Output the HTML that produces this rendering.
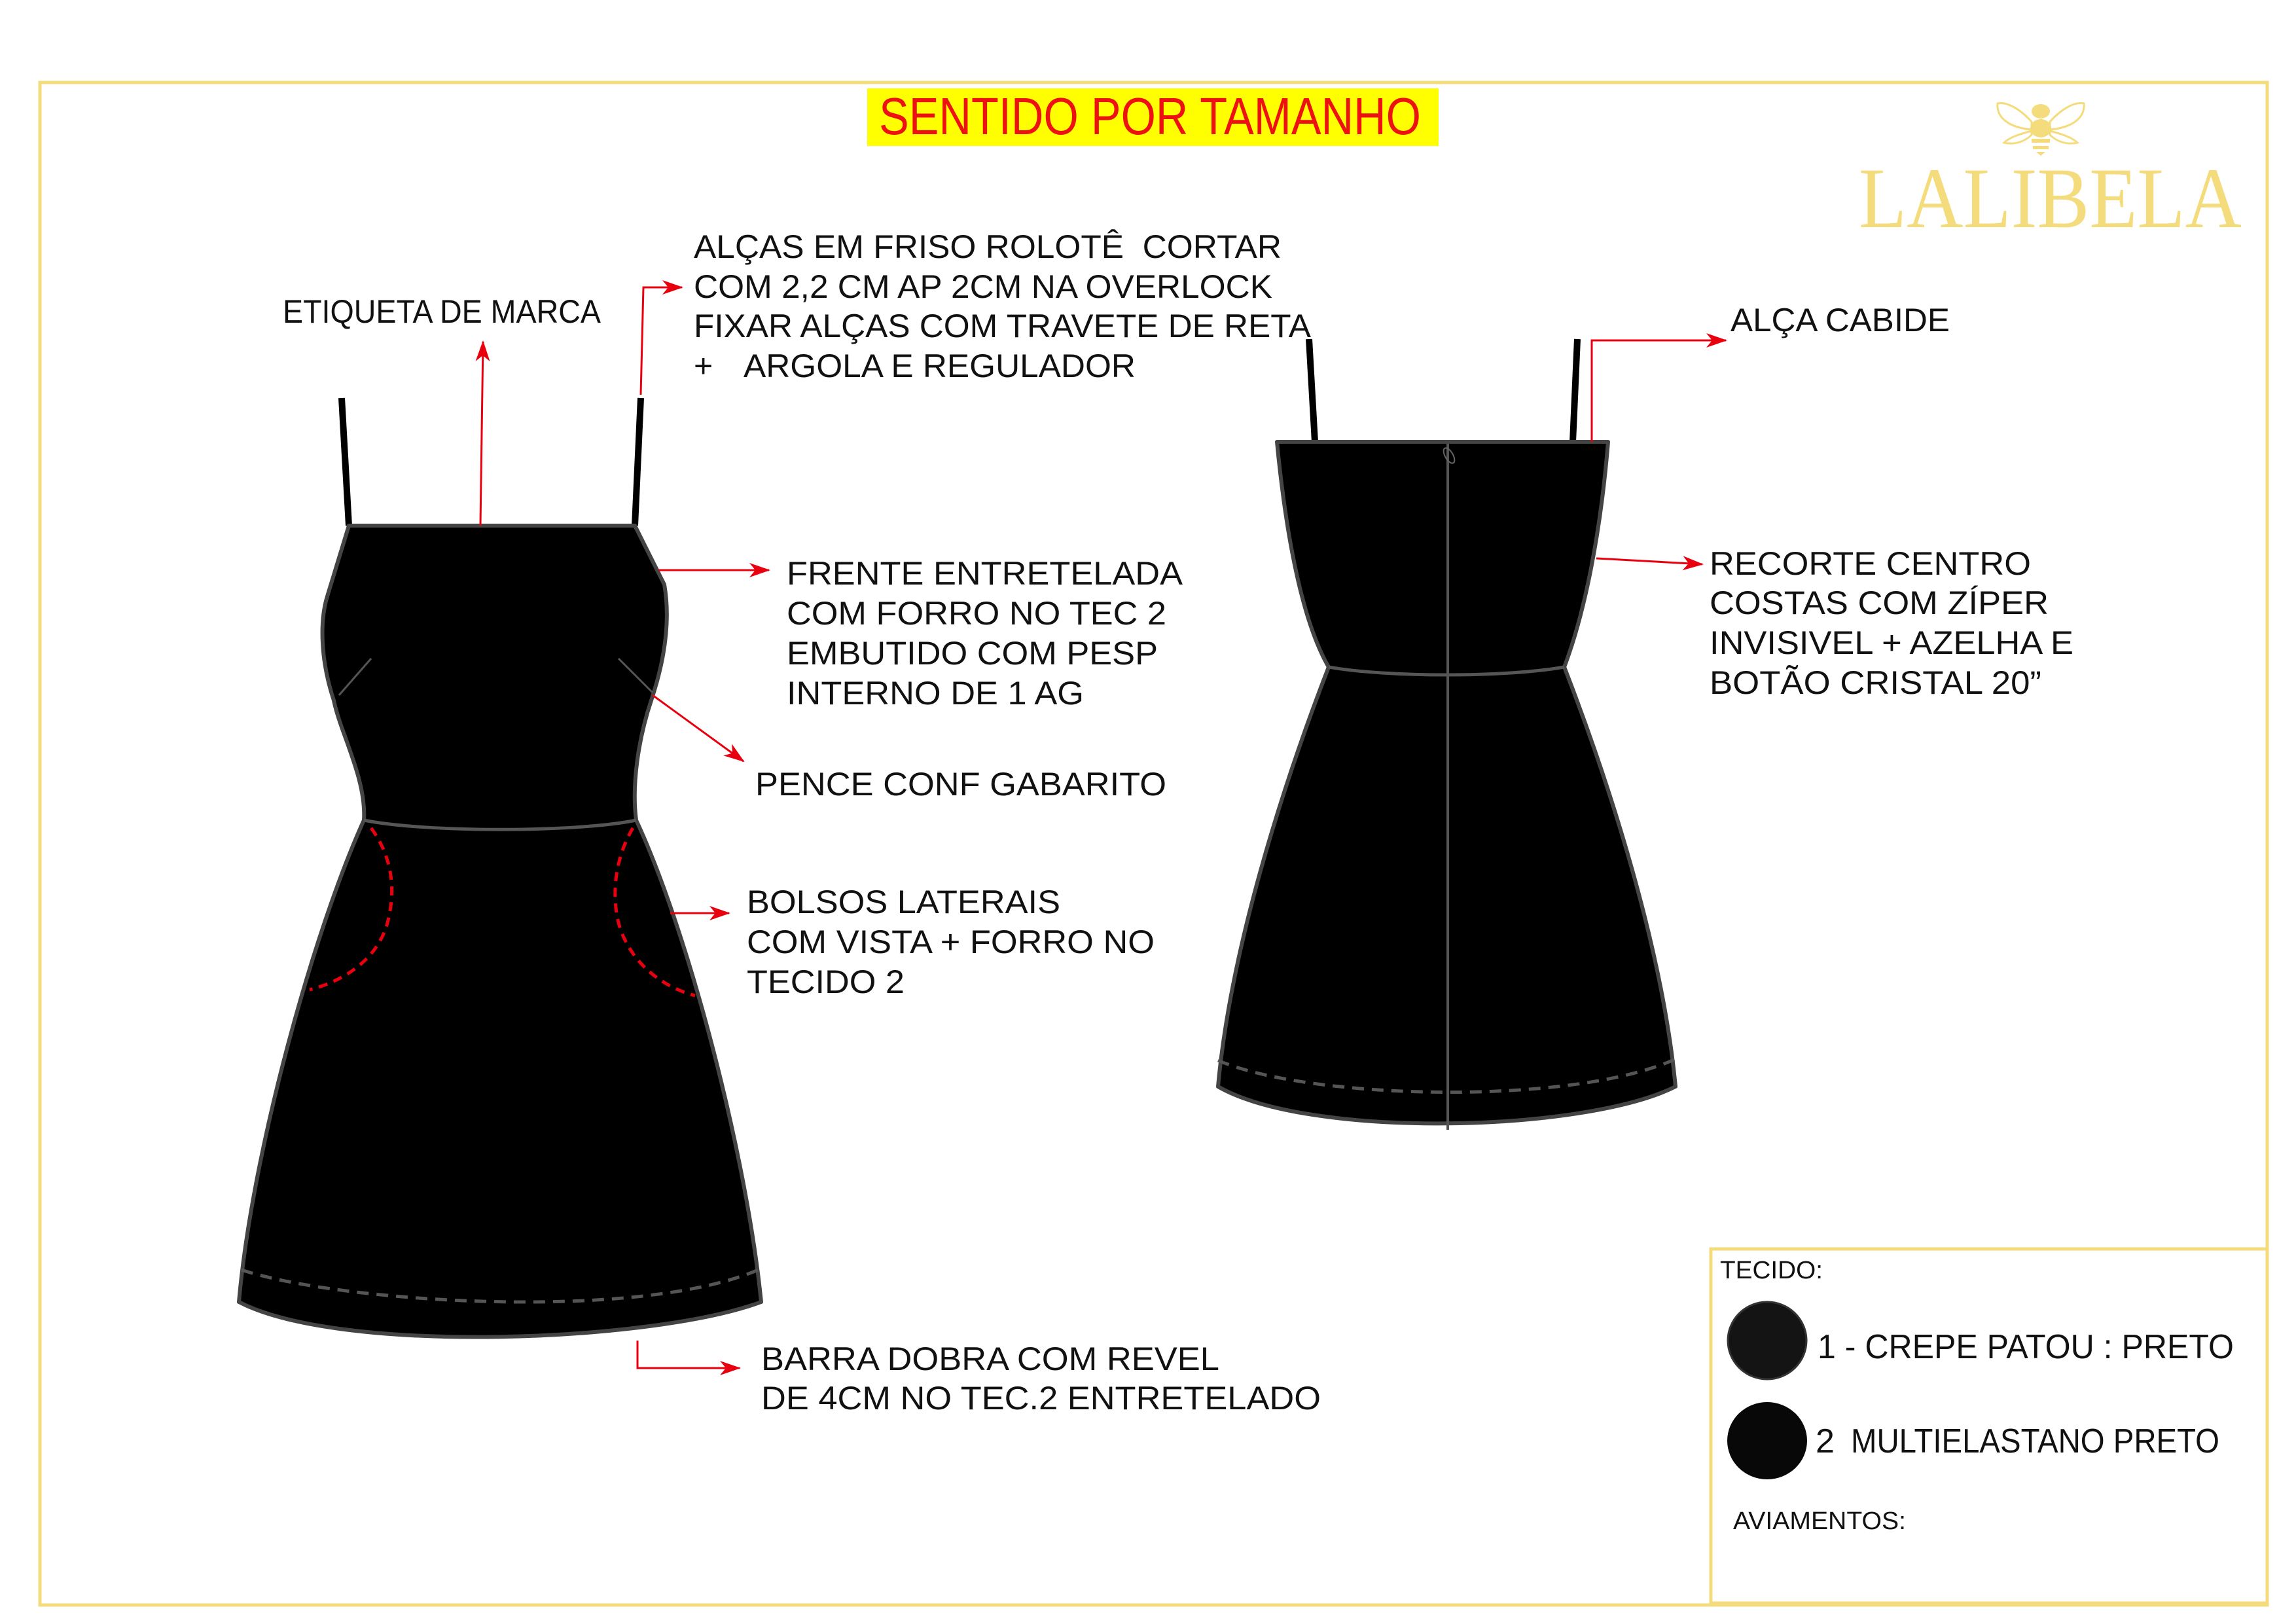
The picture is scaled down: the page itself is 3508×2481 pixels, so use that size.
<!DOCTYPE html>
<html><head><meta charset="utf-8"><style>
html,body{margin:0;padding:0;background:#fff;}
svg{display:block;}
text{font-family:"Liberation Sans",Arial,sans-serif;fill:#111;white-space:pre;}
</style></head><body>
<svg width="3508" height="2481" viewBox="0 0 3508 2481" xmlns="http://www.w3.org/2000/svg" xml:space="preserve">
<defs>
<marker id="ar" viewBox="0 0 32 22" refX="30" refY="11" markerWidth="32" markerHeight="22" markerUnits="userSpaceOnUse" orient="auto">
<path d="M0,0 L32,11 L0,22 L9,11 Z" fill="#e8000f"/>
</marker>
</defs>
<rect x="61" y="126" width="3403" height="2326" fill="none" stroke="#f4dc7c" stroke-width="5"/>
<rect x="2614" y="1908" width="850" height="541" fill="#fff" stroke="#f4dc7c" stroke-width="5"/>

<rect x="1325" y="135" width="873" height="88" fill="#ffff00"/>
<text x="1343" y="205" font-size="80" style="fill:#ee1111" textLength="828" lengthAdjust="spacingAndGlyphs">SENTIDO POR TAMANHO</text>

<!-- logo -->
<g fill="#f4dc7c" stroke="#f4dc7c">
<ellipse cx="3118" cy="170" rx="14" ry="11" stroke="none"/>
<ellipse cx="3118" cy="196" rx="16" ry="14" stroke="none"/>
<path d="M3104,212 h28 v6 h-28z M3106,223 h24 v5 h-24z M3111,232 h14 l-7,6z" stroke="none"/>
<path d="M3104,186 C3085,165 3065,155 3052,158 C3050,180 3070,195 3104,198 Z" fill="none" stroke-width="3"/>
<path d="M3132,186 C3151,165 3171,155 3184,158 C3186,180 3166,195 3132,198 Z" fill="none" stroke-width="3"/>
<path d="M3104,200 C3085,205 3070,210 3062,218 C3080,222 3095,215 3104,206 Z" fill="none" stroke-width="3"/>
<path d="M3132,200 C3151,205 3166,210 3174,218 C3156,222 3141,215 3132,206 Z" fill="none" stroke-width="3"/>
</g>
<text x="2840" y="347" font-size="132" style="fill:#f4dc7c;font-family:'Liberation Serif',serif" textLength="585" lengthAdjust="spacingAndGlyphs">LALIBELA</text>

<!-- FRONT DRESS -->
<g stroke="#000" stroke-width="10" stroke-linecap="butt">
<line x1="522" y1="608" x2="533" y2="803"/>
<line x1="979" y1="608" x2="970" y2="803"/>
</g>
<path d="M533,803 L970,803 L1015,893 C1025,950 1015,1010 995,1070 C975,1130 965,1200 972,1253
C1050,1420 1140,1760 1163,1989
C1000,2050 520,2070 365,1989 C385,1760 480,1420 556,1253
C560,1190 520,1120 510,1070 C490,1010 488,950 500,911 Z" fill="#000" stroke="#444" stroke-width="6" stroke-linejoin="round"/>
<path d="M556,1253 C650,1272 880,1272 972,1253" fill="none" stroke="#555" stroke-width="5"/>
<line x1="518" y1="1062" x2="567" y2="1006" stroke="#555" stroke-width="3"/>
<line x1="997" y1="1058" x2="945" y2="1006" stroke="#555" stroke-width="3"/>
<path d="M369,1940 C520,1990 980,2020 1163,1938" fill="none" stroke="#555" stroke-width="5" stroke-dasharray="18,12"/>
<path d="M567,1265 C600,1310 605,1360 592,1410 C575,1470 520,1500 473,1512" fill="none" stroke="#e8000f" stroke-width="5" stroke-dasharray="14,10"/>
<path d="M967,1265 C940,1310 932,1370 948,1420 C970,1480 1020,1510 1062,1521" fill="none" stroke="#e8000f" stroke-width="5" stroke-dasharray="14,10"/>

<!-- BACK DRESS -->
<g stroke="#000" stroke-width="10">
<line x1="2000" y1="518" x2="2009" y2="675"/>
<line x1="2410" y1="518" x2="2403" y2="675"/>
</g>
<path d="M1951,675 L2457,675 C2445,820 2420,940 2390,1019 C2460,1200 2540,1450 2560,1660
C2420,1730 2000,1740 1861,1660 C1880,1450 1960,1200 2030,1019 C1990,950 1965,820 1951,675 Z" fill="#000" stroke="#444" stroke-width="6" stroke-linejoin="round"/>
<path d="M2030,1019 C2120,1035 2300,1035 2390,1019" fill="none" stroke="#555" stroke-width="5"/>
<line x1="2212" y1="678" x2="2212" y2="1726" stroke="#555" stroke-width="4"/>
<ellipse cx="2214" cy="696" rx="6" ry="13" fill="none" stroke="#666" stroke-width="2" transform="rotate(-30 2214 696)"/>
<path d="M1861,1620 C2000,1680 2400,1690 2560,1618" fill="none" stroke="#555" stroke-width="5" stroke-dasharray="18,12"/>

<!-- ARROWS -->
<g fill="none" stroke="#e8000f" stroke-width="3">
<path d="M734,803 L738,522" marker-end="url(#ar)"/>
<path d="M979,603 L983,439 L1042,439" marker-end="url(#ar)"/>
<path d="M1006,871 L1175,871" marker-end="url(#ar)"/>
<path d="M997,1062 L1136,1163" marker-end="url(#ar)"/>
<path d="M1024,1395 L1114,1395" marker-end="url(#ar)"/>
<path d="M974,2048 L974,2090 L1130,2090" marker-end="url(#ar)"/>
<path d="M2432,675 L2432,520 L2637,520" marker-end="url(#ar)"/>
<path d="M2439,853 L2601,862" marker-end="url(#ar)"/>
</g>

<!-- LABELS -->
<g font-size="50">
<text x="432" y="493" textLength="486" lengthAdjust="spacingAndGlyphs">ETIQUETA DE MARCA</text>
<text x="1060" y="394" textLength="898" lengthAdjust="spacingAndGlyphs">ALÇAS EM FRISO ROLOTÊ  CORTAR</text>
<text x="1060" y="455" textLength="884" lengthAdjust="spacingAndGlyphs">COM 2,2 CM AP 2CM NA OVERLOCK</text>
<text x="1060" y="515" textLength="943" lengthAdjust="spacingAndGlyphs">FIXAR ALÇAS COM TRAVETE DE RETA</text>
<text x="1060" y="576">+</text>
<text x="1136" y="576" textLength="599" lengthAdjust="spacingAndGlyphs">ARGOLA E REGULADOR</text>
<text x="2644" y="506" textLength="335" lengthAdjust="spacingAndGlyphs">ALÇA CABIDE</text>
<text x="1202" y="893" textLength="605" lengthAdjust="spacingAndGlyphs">FRENTE ENTRETELADA</text>
<text x="1202" y="954" textLength="580" lengthAdjust="spacingAndGlyphs">COM FORRO NO TEC 2</text>
<text x="1202" y="1015" textLength="567" lengthAdjust="spacingAndGlyphs">EMBUTIDO COM PESP</text>
<text x="1202" y="1076" textLength="454" lengthAdjust="spacingAndGlyphs">INTERNO DE 1 AG</text>
<text x="1154" y="1215" textLength="628" lengthAdjust="spacingAndGlyphs">PENCE CONF GABARITO</text>
<text x="1141" y="1395" textLength="479" lengthAdjust="spacingAndGlyphs">BOLSOS LATERAIS</text>
<text x="1141" y="1456" textLength="623" lengthAdjust="spacingAndGlyphs">COM VISTA + FORRO NO</text>
<text x="1141" y="1517" textLength="241" lengthAdjust="spacingAndGlyphs">TECIDO 2</text>
<text x="1163" y="2093" textLength="700" lengthAdjust="spacingAndGlyphs">BARRA DOBRA COM REVEL</text>
<text x="1163" y="2153" textLength="855" lengthAdjust="spacingAndGlyphs">DE 4CM NO TEC.2 ENTRETELADO</text>
<text x="2612" y="878" textLength="491" lengthAdjust="spacingAndGlyphs">RECORTE CENTRO</text>
<text x="2612" y="938" textLength="518" lengthAdjust="spacingAndGlyphs">COSTAS COM ZÍPER</text>
<text x="2612" y="999" textLength="556" lengthAdjust="spacingAndGlyphs">INVISIVEL + AZELHA E</text>
<text x="2612" y="1060" textLength="507" lengthAdjust="spacingAndGlyphs">BOTÃO CRISTAL 20”</text>
</g>

<!-- fabric box -->
<text x="2628" y="1953" font-size="38" textLength="157" lengthAdjust="spacingAndGlyphs">TECIDO:</text>
<ellipse cx="2700" cy="2048" rx="60" ry="59" fill="#141414" stroke="#333" stroke-width="3"/>
<ellipse cx="2700" cy="2201" rx="61" ry="59" fill="#080808"/>
<text x="2777" y="2075" font-size="52" textLength="636" lengthAdjust="spacingAndGlyphs">1 - CREPE PATOU : PRETO</text>
<text x="2774" y="2219" font-size="52">2</text>
<text x="2828" y="2219" font-size="52" textLength="563" lengthAdjust="spacingAndGlyphs">MULTIELASTANO PRETO</text>
<text x="2648" y="2336" font-size="38" textLength="264" lengthAdjust="spacingAndGlyphs">AVIAMENTOS:</text>
</svg>
</body></html>
